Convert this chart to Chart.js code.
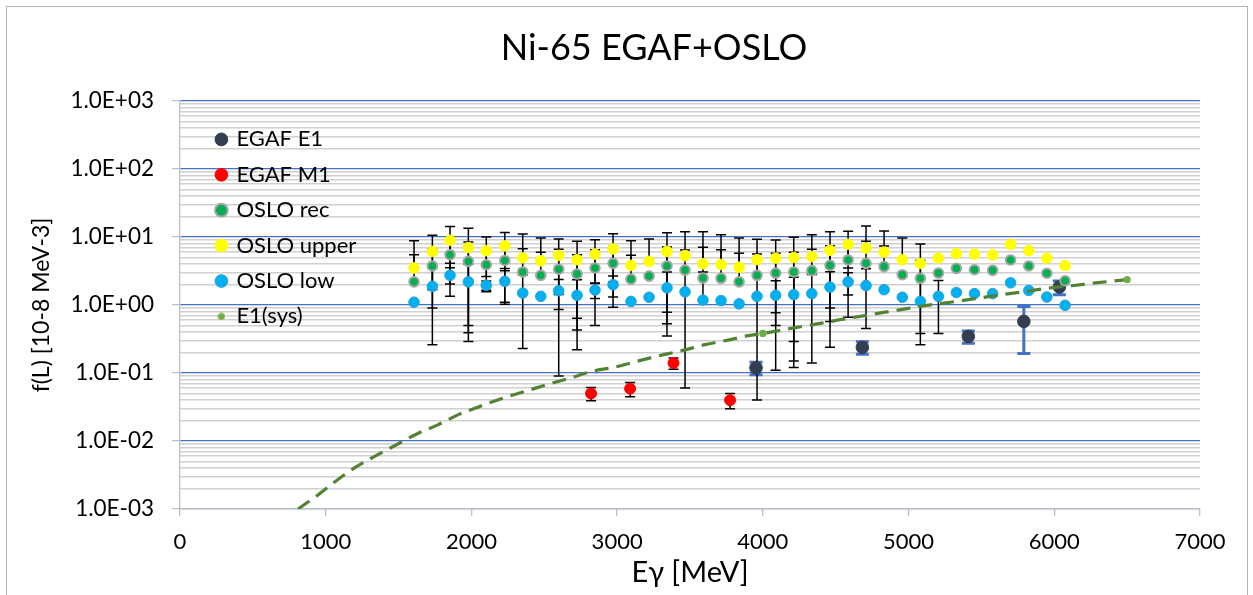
<!DOCTYPE html>
<html>
<head>
<meta charset="utf-8">
<script src="https://cdn.jsdelivr.net/npm/chart.js@4.4.1/dist/chart.umd.min.js"></script>
<style>
  html, body { margin: 0; padding: 0; background: #fff; overflow: hidden; }
  #frame { position: absolute; left: 6px; top: 6px; width: 1240px; height: 640px; border: 1px solid #b4b4b4; }
  #chart { position: absolute; left: 0; top: 0; }
</style>
</head>
<body>
<canvas id="chart" width="1361" height="595"></canvas>
<div id="frame"></div>
<script>
// OSLO points (energy in keV, f(L) in 10-8 MeV-3)
var osloEnergy = [1606, 1732, 1853, 1979, 2102, 2229, 2352, 2476, 2599, 2725, 2848, 2972, 3095, 3219, 3342, 3466, 3589, 3713, 3837, 3960,
                  4088, 4212, 4336, 4461, 4585, 4708, 4832, 4957, 5081, 5205, 5328, 5452, 5577, 5700, 5825, 5949, 6074];
var osloRec   = [2.19, 3.75, 5.49, 4.38, 3.91, 4.52, 3.06, 2.73, 3.36, 2.85, 3.5, 4.1, 2.40, 2.66, 3.75, 3.26, 2.49, 2.47, 2.19, 2.73,
                 2.95, 3.06, 3.2, 3.83, 4.6, 4.10, 3.67, 2.79, 2.47, 2.95, 3.46, 3.3, 3.23, 4.6, 3.75, 2.93, 2.27];
var osloUpper = [3.50, 6.14, 8.93, 7.0, 6.3, 7.4, 4.95, 4.46, 5.38, 4.64, 5.6, 6.67, 3.83, 4.38, 6.14, 5.33, 4.04, 3.95, 3.6, 4.64,
                 4.90, 5.0, 5.17, 6.4, 7.8, 6.89, 6.0, 4.64, 4.08, 4.90, 5.7, 5.6, 5.45, 7.8, 6.3, 4.9, 3.8];
var osloLow   = [1.10, 1.88, 2.73, 2.19, 1.95, 2.23, 1.50, 1.34, 1.62, 1.39, 1.66, 1.99, 1.13, 1.30, 1.79, 1.56, 1.18, 1.16, 1.04, 1.34,
                 1.39, 1.42, 1.47, 1.83, 2.19, 1.93, 1.68, 1.30, 1.13, 1.34, 1.53, 1.47, 1.47, 2.12, 1.64, 1.31, 0.99];
var recErr    = [3.3, 2.85, 3.46, 4.09, 2.35, 3.42, 3.64, 3.24, 3.27, 2.63, 3.0, 3.17, 2.98, 0, 3.4, 3.2, 4.6, 4.0, 3.6, 2.87,
                 2.84, 2.91, 3.4, 3.59, 3.94, 4.53, 3.73, 0, 2.09, 0, 0, 0, 0, 0, 0, 0, 0];
var upperErr  = [5.32, 4.46, 5.4, 6.5, 3.68, 4.2, 6.15, 5.2, 3.95, 4.0, 3.5, 4.5, 5.0, 4.95, 5.36, 6.57, 7.86, 6.85, 6.06, 4.6,
                 4.13, 4.88, 5.63, 5.5, 4.3, 7.6, 6.3, 5.0, 3.82, 0, 0, 0, 0, 0, 0, 0, 0];
var lowErr    = [0, 1.62, 1.38, 1.8, 0.3, 1.2, 1.27, 0, 0.76, 0.96, 0.41, 0.68, 0, 0, 1.26, 0, 1.88, 0, 0, 0,
                 0.89, 1.13, 1.33, 1.26, 0.79, 1.48, 0, 0, 0, 0.96, 0, 0, 0, 0, 0, 0, 0];

// EGAF points
var e1Energy = [3953, 4683, 5410, 5791, 6035];
var e1Value  = [0.119, 0.238, 0.345, 0.574, 1.84];
var e1Err    = [0.025, 0.05, 0.07, 0.38, 0.42];
var m1Energy = [2821, 3089, 3387, 3775];
var m1Value  = [0.050, 0.0588, 0.140, 0.0398];
var m1Err    = [0.011, 0.014, 0.026, 0.010];

// E1(sys) curve
var sysEnergy = [810, 949, 1075, 1208, 1345, 1482, 1625, 1773, 1910, 2059, 2219, 2368, 2517, 2677, 2826, 2974, 3134, 3294, 3443,
                 3603, 3752, 3900, 4000, 4233, 4393, 4530, 4667, 4827, 4988, 5125, 5331, 5491, 5640, 5800, 5971, 6120, 6280, 6500];
var sysValue  = [0.001, 0.00162, 0.00263, 0.00415, 0.00608, 0.00873, 0.0127, 0.0174, 0.0244, 0.0323, 0.0429, 0.0536, 0.0673, 0.0844,
                 0.1056, 0.121, 0.148, 0.181, 0.213, 0.261, 0.302, 0.354, 0.382, 0.469, 0.536, 0.608, 0.68, 0.778, 0.883, 0.987,
                 1.13, 1.27, 1.42, 1.58, 1.78, 1.92, 2.11, 2.36];
var sysMarked = [4000, 6500];

var xTicks = [0, 1000, 2000, 3000, 4000, 5000, 6000, 7000];

function pts(xs, ys) {
  return xs.map(function(x, i) { return {x: x, y: ys[i]}; });
}

function isDecade(v) {
  var l = Math.log10(v);
  return Math.abs(l - Math.round(l)) < 1e-6;
}

function sciLabel(v) {
  var e = Math.round(Math.log10(v));
  return '1.0E' + (e < 0 ? '-' : '+') + String(Math.abs(e)).padStart(2, '0');
}

var errorBars = {
  id: 'errorBars',
  beforeDatasetsDraw: function(chart) {
    var ctx = chart.ctx, a = chart.chartArea;
    var xs = chart.scales.x, ys = chart.scales.y;
    ctx.save();
    ctx.beginPath();
    ctx.rect(a.left, a.top, a.right - a.left, a.bottom - a.top);
    ctx.clip();
    chart.data.datasets.forEach(function(ds) {
      if (!ds.errors) return;
      ctx.strokeStyle = ds.errorColor;
      ctx.lineWidth = ds.errorWidth;
      var half = ds.capWidth / 2;
      ds.data.forEach(function(p, i) {
        var e = ds.errors[i];
        if (!e) return;
        var x = xs.getPixelForValue(p.x);
        var yTop = ys.getPixelForValue(p.y + e);
        var low = p.y - e;
        var yBot = low > 0 ? ys.getPixelForValue(low) : ys.getPixelForValue(p.y);
        ctx.beginPath();
        ctx.moveTo(x, yTop); ctx.lineTo(x, yBot);
        ctx.moveTo(x - half, yTop); ctx.lineTo(x + half, yTop);
        if (low > 0) { ctx.moveTo(x - half, yBot); ctx.lineTo(x + half, yBot); }
        ctx.stroke();
      });
    });
    ctx.restore();
  }
};

// legend sits inside the plot, put it where excel had it
var legendShift = {
  id: 'legendShift',
  afterLayout: function(chart) {
    var lg = chart.legend, a = chart.chartArea;
    var w = lg.right - lg.left, h = lg.bottom - lg.top;
    lg.left = a.left + 24; lg.right = lg.left + w;
    lg.top = a.top + 14; lg.bottom = lg.top + h;
  }
};

var sysDot = document.createElement('canvas');
sysDot.width = 8; sysDot.height = 8;
(function() {
  var c = sysDot.getContext('2d');
  c.fillStyle = '#70ad47';
  c.beginPath(); c.arc(4, 4, 3.6, 0, Math.PI * 2); c.fill();
})();

Chart.defaults.font.family = 'Lato';
Chart.defaults.color = '#000';

new Chart(document.getElementById('chart'), {
  type: 'scatter',
  data: {
    datasets: [{
      label: 'EGAF E1',
      data: pts(e1Energy, e1Value),
      backgroundColor: '#333f50', borderColor: '#333f50', borderWidth: 1, pointRadius: 6.3,
      errors: e1Err, errorColor: '#4472c4', errorWidth: 3, capWidth: 13,
      order: 6
    }, {
      label: 'EGAF M1',
      data: pts(m1Energy, m1Value),
      backgroundColor: '#ff0000', borderColor: '#ff0000', borderWidth: 1, pointRadius: 5.5,
      errors: m1Err, errorColor: '#000', errorWidth: 1.5, capWidth: 10,
      order: 5
    }, {
      label: 'OSLO rec',
      data: pts(osloEnergy, osloRec),
      backgroundColor: '#00b050', borderColor: '#a5a5a5', borderWidth: 2, pointRadius: 4.8,
      errors: recErr, errorColor: '#000', errorWidth: 1.5, capWidth: 10,
      order: 4
    }, {
      label: 'OSLO upper',
      data: pts(osloEnergy, osloUpper),
      backgroundColor: '#ffff00', borderColor: '#ffff00', borderWidth: 1, pointRadius: 5.3,
      errors: upperErr, errorColor: '#000', errorWidth: 1.5, capWidth: 10,
      order: 3
    }, {
      label: 'OSLO low',
      data: pts(osloEnergy, osloLow),
      backgroundColor: '#00b0f0', borderColor: '#2f9fdc', borderWidth: 1, pointRadius: 5.3,
      errors: lowErr, errorColor: '#000', errorWidth: 1.5, capWidth: 10,
      order: 2
    }, {
      label: 'E1(sys)',
      data: pts(sysEnergy, sysValue),
      showLine: true,
      borderColor: '#548235', borderWidth: 3.2, borderDash: [14, 8],
      cubicInterpolationMode: 'monotone',
      backgroundColor: '#70ad47',
      pointBackgroundColor: '#70ad47', pointBorderColor: '#70ad47', pointBorderWidth: 0,
      pointRadius: function(c) { return c.raw && sysMarked.indexOf(c.raw.x) >= 0 ? 3.6 : 0; },
      order: 1
    }]
  },
  options: {
    responsive: false,
    animation: false,
    events: [],
    layout: { padding: { left: 0, right: 53, top: 0, bottom: 0 } },
    plugins: {
      title: {
        display: true,
        text: 'Ni-65 EGAF+OSLO',
        font: { size: 36, weight: 'normal' },
        color: '#000',
        padding: { top: 27, bottom: 30.8 }
      },
      legend: {
        position: 'chartArea',
        align: 'start',
        labels: {
          usePointStyle: true,
          boxWidth: 8,
          boxHeight: 9,
          padding: 13.4,
          font: { size: 22 },
          color: '#000',
          sort: function(a, b) { return a.datasetIndex - b.datasetIndex; },
          generateLabels: function(chart) {
            var items = Chart.defaults.plugins.legend.labels.generateLabels(chart);
            items.forEach(function(it) { if (it.datasetIndex === 5) it.pointStyle = sysDot; });
            return items;
          }
        }
      },
      tooltip: { enabled: false }
    },
    scales: {
      x: {
        type: 'linear',
        min: 0, max: 7000,
        afterBuildTicks: function(s) { s.ticks = xTicks.map(function(v) { return {value: v}; }); },
        afterFit: function(s) { s.height = 86; },
        ticks: { font: { size: 22 }, color: '#000', padding: 13, autoSkip: false, maxRotation: 0,
                 callback: function(v) { return String(v); } },
        grid: { drawOnChartArea: false, tickLength: 7, color: '#bfbfbf', lineWidth: 1.3 },
        border: { color: '#bfbfbf', width: 1.3 },
        title: { display: true, text: 'Eγ [MeV]', font: { size: 29 }, color: '#000', padding: { top: 0, bottom: 5 } }
      },
      y: {
        type: 'logarithmic',
        min: 0.001, max: 1000,
        afterBuildTicks: function(s) {
          var t = [];
          for (var e = -3; e <= 3; e++) {
            for (var m = 1; m <= 9; m++) {
              if (e === 3 && m > 1) break;
              t.push({value: Number((m * Math.pow(10, e)).toPrecision(6))});
            }
          }
          s.ticks = t;
        },
        afterFit: function(s) { s.width = 180; },
        ticks: { font: { size: 22.5 }, color: '#000', padding: 18, autoSkip: false,
                 callback: function(v) { return isDecade(v) ? sciLabel(v) : ''; } },
        grid: {
          tickLength: 8,
          color: function(c) { return c.tick && isDecade(c.tick.value) ? '#4472c4' : '#d0d0d0'; },
          lineWidth: function(c) { return c.tick && isDecade(c.tick.value) ? 1.2 : 1.4; },
          tickColor: function(c) { return c.tick && isDecade(c.tick.value) ? '#bfbfbf' : 'rgba(0,0,0,0)'; }
        },
        border: { color: '#bfbfbf', width: 1.3 },
        title: { display: true, text: 'f(L) [10-8 MeV-3]', font: { size: 23 }, color: '#000', padding: { top: 28, bottom: 0 } }
      },
      // empty right-hand box so the title centres the way it does in the original
      spacer: {
        type: 'linear',
        position: 'right',
        afterFit: function(s) { s.width = 108; },
        ticks: { display: false },
        grid: { display: false },
        border: { display: false }
      }
    }
  },
  plugins: [errorBars, legendShift]
});
</script>
</body>
</html>
